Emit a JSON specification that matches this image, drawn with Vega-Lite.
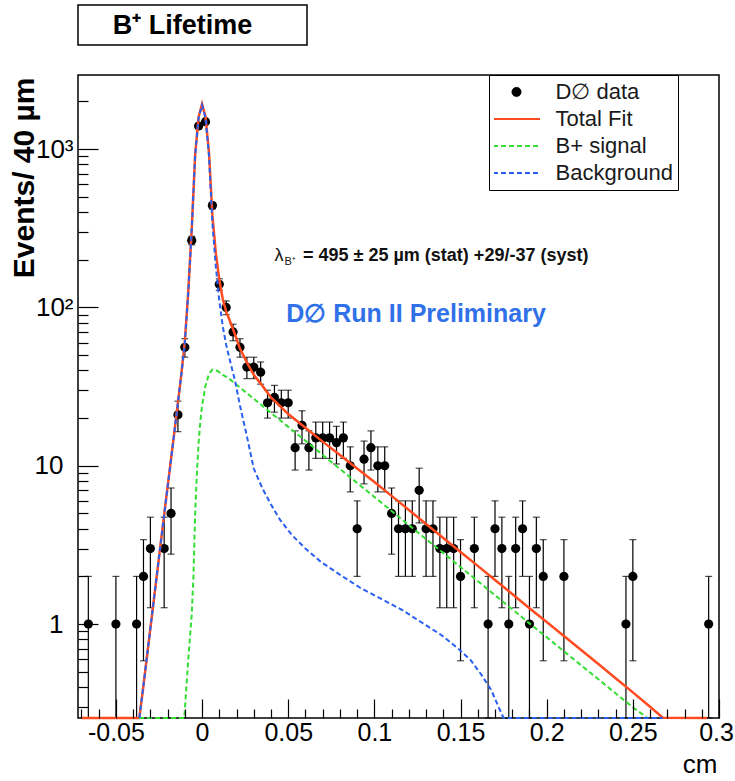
{
  "$schema": "https://vega.github.io/schema/vega-lite/v6.json",
  "autosize": {"type": "pad"},
  "padding": {"left": 8, "top": 4, "right": 0, "bottom": 0},
  "background": "white",
  "spacing": 27,
  "config": {"view": {"stroke": "black", "strokeWidth": 1.5}},
  "resolve": {"scale": {"color": "independent"}, "legend": {"color": "independent"}},
  "datasets": {
    "points": [
      {"x": -0.066, "n": 1, "lo": 0, "hi": 2, "series": "D∅ data"},
      {"x": -0.050, "n": 1, "lo": 0, "hi": 2, "series": "D∅ data"},
      {"x": -0.038, "n": 1, "lo": 0, "hi": 2, "series": "D∅ data"},
      {"x": -0.034, "n": 2, "lo": 0.586, "hi": 3.414, "series": "D∅ data"},
      {"x": -0.030, "n": 3, "lo": 1.268, "hi": 4.732, "series": "D∅ data"},
      {"x": -0.022, "n": 3, "lo": 1.268, "hi": 4.732, "series": "D∅ data"},
      {"x": -0.018, "n": 5, "lo": 2.764, "hi": 7.236, "series": "D∅ data"},
      {"x": -0.014, "n": 21, "lo": 16.417, "hi": 25.583, "series": "D∅ data"},
      {"x": -0.010, "n": 56, "lo": 48.517, "hi": 63.483, "series": "D∅ data"},
      {"x": -0.006, "n": 265, "lo": 248.721, "hi": 281.279, "series": "D∅ data"},
      {"x": -0.002, "n": 1400, "lo": 1362.583, "hi": 1437.417, "series": "D∅ data"},
      {"x": 0.002, "n": 1490, "lo": 1451.4, "hi": 1528.6, "series": "D∅ data"},
      {"x": 0.006, "n": 440, "lo": 419.024, "hi": 460.976, "series": "D∅ data"},
      {"x": 0.010, "n": 140, "lo": 128.168, "hi": 151.832, "series": "D∅ data"},
      {"x": 0.014, "n": 100, "lo": 90, "hi": 110, "series": "D∅ data"},
      {"x": 0.018, "n": 70, "lo": 61.633, "hi": 78.367, "series": "D∅ data"},
      {"x": 0.022, "n": 56, "lo": 48.517, "hi": 63.483, "series": "D∅ data"},
      {"x": 0.026, "n": 42, "lo": 35.519, "hi": 48.481, "series": "D∅ data"},
      {"x": 0.030, "n": 42, "lo": 35.519, "hi": 48.481, "series": "D∅ data"},
      {"x": 0.034, "n": 39, "lo": 32.755, "hi": 45.245, "series": "D∅ data"},
      {"x": 0.038, "n": 25, "lo": 20, "hi": 30, "series": "D∅ data"},
      {"x": 0.042, "n": 27, "lo": 21.804, "hi": 32.196, "series": "D∅ data"},
      {"x": 0.046, "n": 25, "lo": 20, "hi": 30, "series": "D∅ data"},
      {"x": 0.050, "n": 25, "lo": 20, "hi": 30, "series": "D∅ data"},
      {"x": 0.054, "n": 13, "lo": 9.394, "hi": 16.606, "series": "D∅ data"},
      {"x": 0.058, "n": 18, "lo": 13.757, "hi": 22.243, "series": "D∅ data"},
      {"x": 0.062, "n": 13, "lo": 9.394, "hi": 16.606, "series": "D∅ data"},
      {"x": 0.066, "n": 15, "lo": 11.127, "hi": 18.873, "series": "D∅ data"},
      {"x": 0.070, "n": 15, "lo": 11.127, "hi": 18.873, "series": "D∅ data"},
      {"x": 0.074, "n": 15, "lo": 11.127, "hi": 18.873, "series": "D∅ data"},
      {"x": 0.078, "n": 14, "lo": 10.258, "hi": 17.742, "series": "D∅ data"},
      {"x": 0.082, "n": 15, "lo": 11.127, "hi": 18.873, "series": "D∅ data"},
      {"x": 0.086, "n": 10, "lo": 6.838, "hi": 13.162, "series": "D∅ data"},
      {"x": 0.090, "n": 4, "lo": 2, "hi": 6, "series": "D∅ data"},
      {"x": 0.094, "n": 11, "lo": 7.683, "hi": 14.317, "series": "D∅ data"},
      {"x": 0.098, "n": 13, "lo": 9.394, "hi": 16.606, "series": "D∅ data"},
      {"x": 0.102, "n": 10, "lo": 6.838, "hi": 13.162, "series": "D∅ data"},
      {"x": 0.106, "n": 10, "lo": 6.838, "hi": 13.162, "series": "D∅ data"},
      {"x": 0.110, "n": 5, "lo": 2.764, "hi": 7.236, "series": "D∅ data"},
      {"x": 0.114, "n": 4, "lo": 2, "hi": 6, "series": "D∅ data"},
      {"x": 0.118, "n": 4, "lo": 2, "hi": 6, "series": "D∅ data"},
      {"x": 0.122, "n": 4, "lo": 2, "hi": 6, "series": "D∅ data"},
      {"x": 0.126, "n": 7, "lo": 4.354, "hi": 9.646, "series": "D∅ data"},
      {"x": 0.130, "n": 4, "lo": 2, "hi": 6, "series": "D∅ data"},
      {"x": 0.134, "n": 4, "lo": 2, "hi": 6, "series": "D∅ data"},
      {"x": 0.138, "n": 3, "lo": 1.268, "hi": 4.732, "series": "D∅ data"},
      {"x": 0.142, "n": 3, "lo": 1.268, "hi": 4.732, "series": "D∅ data"},
      {"x": 0.146, "n": 3, "lo": 1.268, "hi": 4.732, "series": "D∅ data"},
      {"x": 0.150, "n": 2, "lo": 0.586, "hi": 3.414, "series": "D∅ data"},
      {"x": 0.158, "n": 3, "lo": 1.268, "hi": 4.732, "series": "D∅ data"},
      {"x": 0.166, "n": 1, "lo": 0, "hi": 2, "series": "D∅ data"},
      {"x": 0.170, "n": 4, "lo": 2, "hi": 6, "series": "D∅ data"},
      {"x": 0.174, "n": 3, "lo": 1.268, "hi": 4.732, "series": "D∅ data"},
      {"x": 0.178, "n": 1, "lo": 0, "hi": 2, "series": "D∅ data"},
      {"x": 0.182, "n": 3, "lo": 1.268, "hi": 4.732, "series": "D∅ data"},
      {"x": 0.186, "n": 4, "lo": 2, "hi": 6, "series": "D∅ data"},
      {"x": 0.190, "n": 1, "lo": 0, "hi": 2, "series": "D∅ data"},
      {"x": 0.194, "n": 3, "lo": 1.268, "hi": 4.732, "series": "D∅ data"},
      {"x": 0.198, "n": 2, "lo": 0.586, "hi": 3.414, "series": "D∅ data"},
      {"x": 0.210, "n": 2, "lo": 0.586, "hi": 3.414, "series": "D∅ data"},
      {"x": 0.246, "n": 1, "lo": 0, "hi": 2, "series": "D∅ data"},
      {"x": 0.250, "n": 2, "lo": 0.586, "hi": 3.414, "series": "D∅ data"},
      {"x": 0.294, "n": 1, "lo": 0, "hi": 2, "series": "D∅ data"}
    ],
    "fit": [
      {"x": -0.070, "y": 0.25}, {"x": -0.0364, "y": 0.254}, {"x": -0.034, "y": 0.41}, {"x": -0.030, "y": 0.94},
      {"x": -0.026, "y": 2.14}, {"x": -0.022, "y": 4.9}, {"x": -0.018, "y": 11}, {"x": -0.014, "y": 25},
      {"x": -0.012, "y": 38}, {"x": -0.010, "y": 61}, {"x": -0.008, "y": 126}, {"x": -0.006, "y": 312},
      {"x": -0.004, "y": 925}, {"x": -0.002, "y": 1595}, {"x": 0, "y": 1925}, {"x": 0.002, "y": 1600},
      {"x": 0.004, "y": 958}, {"x": 0.006, "y": 380}, {"x": 0.008, "y": 220}, {"x": 0.010, "y": 150},
      {"x": 0.012, "y": 113}, {"x": 0.014, "y": 94}, {"x": 0.016, "y": 83}, {"x": 0.019, "y": 68},
      {"x": 0.022, "y": 55}, {"x": 0.026, "y": 45}, {"x": 0.030, "y": 37.5}, {"x": 0.035, "y": 32},
      {"x": 0.040, "y": 27}, {"x": 0.045, "y": 24}, {"x": 0.050, "y": 21.2}, {"x": 0.060, "y": 17.4},
      {"x": 0.070, "y": 14.2}, {"x": 0.080, "y": 11.7}, {"x": 0.090, "y": 9.6}, {"x": 0.100, "y": 7.9},
      {"x": 0.110, "y": 6.45}, {"x": 0.120, "y": 5.26}, {"x": 0.130, "y": 4.29}, {"x": 0.140, "y": 3.5},
      {"x": 0.150, "y": 2.85}, {"x": 0.160, "y": 2.33}, {"x": 0.170, "y": 1.9}, {"x": 0.180, "y": 1.55},
      {"x": 0.190, "y": 1.26}, {"x": 0.200, "y": 1.03}, {"x": 0.210, "y": 0.84}, {"x": 0.220, "y": 0.685},
      {"x": 0.230, "y": 0.56}, {"x": 0.240, "y": 0.455}, {"x": 0.250, "y": 0.37}, {"x": 0.260, "y": 0.3},
      {"x": 0.2674, "y": 0.256}, {"x": 0.293, "y": 0.25}
    ],
    "signal": [
      {"x": -0.0366, "y": 0.25}, {"x": -0.0103, "y": 0.254}, {"x": -0.008, "y": 0.6}, {"x": -0.006, "y": 1.15},
      {"x": -0.005, "y": 2.0}, {"x": -0.004, "y": 5}, {"x": -0.003, "y": 9}, {"x": -0.002, "y": 14},
      {"x": -0.001, "y": 19}, {"x": 0, "y": 24}, {"x": 0.002, "y": 32}, {"x": 0.004, "y": 38},
      {"x": 0.006, "y": 40.5}, {"x": 0.008, "y": 40.3}, {"x": 0.010, "y": 39}, {"x": 0.012, "y": 37.5},
      {"x": 0.015, "y": 36}, {"x": 0.020, "y": 32.5}, {"x": 0.030, "y": 26.5}, {"x": 0.040, "y": 21.6},
      {"x": 0.050, "y": 17.6}, {"x": 0.060, "y": 14.4}, {"x": 0.070, "y": 11.7}, {"x": 0.080, "y": 9.55},
      {"x": 0.090, "y": 7.79}, {"x": 0.100, "y": 6.35}, {"x": 0.110, "y": 5.18}, {"x": 0.120, "y": 4.22},
      {"x": 0.130, "y": 3.44}, {"x": 0.140, "y": 2.81}, {"x": 0.150, "y": 2.29}, {"x": 0.160, "y": 1.87},
      {"x": 0.170, "y": 1.52}, {"x": 0.180, "y": 1.24}, {"x": 0.190, "y": 1.01}, {"x": 0.200, "y": 0.826},
      {"x": 0.210, "y": 0.673}, {"x": 0.220, "y": 0.549}, {"x": 0.230, "y": 0.448}, {"x": 0.240, "y": 0.365},
      {"x": 0.250, "y": 0.298}, {"x": 0.2585, "y": 0.254}
    ],
    "background": [
      {"x": -0.0364, "y": 0.254}, {"x": -0.034, "y": 0.41}, {"x": -0.030, "y": 0.94}, {"x": -0.026, "y": 2.14},
      {"x": -0.022, "y": 4.9}, {"x": -0.018, "y": 11}, {"x": -0.014, "y": 25}, {"x": -0.012, "y": 38},
      {"x": -0.010, "y": 60}, {"x": -0.008, "y": 125}, {"x": -0.006, "y": 310}, {"x": -0.004, "y": 920},
      {"x": -0.002, "y": 1580}, {"x": 0, "y": 1900}, {"x": 0.002, "y": 1570}, {"x": 0.004, "y": 920},
      {"x": 0.006, "y": 340}, {"x": 0.008, "y": 180}, {"x": 0.010, "y": 110}, {"x": 0.012, "y": 76},
      {"x": 0.014, "y": 58}, {"x": 0.016, "y": 47}, {"x": 0.019, "y": 35}, {"x": 0.022, "y": 24},
      {"x": 0.026, "y": 15.4}, {"x": 0.030, "y": 9.6}, {"x": 0.035, "y": 7.2}, {"x": 0.040, "y": 5.7},
      {"x": 0.045, "y": 4.6}, {"x": 0.052, "y": 3.66}, {"x": 0.060, "y": 3.0}, {"x": 0.069, "y": 2.47},
      {"x": 0.080, "y": 2.05}, {"x": 0.092, "y": 1.69}, {"x": 0.104, "y": 1.44}, {"x": 0.116, "y": 1.23},
      {"x": 0.127, "y": 1.03}, {"x": 0.139, "y": 0.85}, {"x": 0.148, "y": 0.71}, {"x": 0.156, "y": 0.59},
      {"x": 0.162, "y": 0.48}, {"x": 0.168, "y": 0.38}, {"x": 0.172, "y": 0.30}, {"x": 0.175, "y": 0.254},
      {"x": 0.2674, "y": 0.25}
    ]
  },
  "vconcat": [
    {
      "width": 229,
      "height": 40,
      "view": {"stroke": "black", "strokeWidth": 1.5, "fill": "white"},
      "data": {"values": [{"t": "B⁺ Lifetime"}]},
      "mark": {"type": "text", "font": "Liberation Sans", "fontSize": 27, "fontWeight": "bold", "color": "black", "align": "center", "baseline": "middle", "dx": -10, "dy": 1},
      "encoding": {"text": {"field": "t"}}
    },
    {
      "resolve": {"scale": {"color": "independent"}, "legend": {"color": "independent"}},
      "hconcat": [
        {
          "width": 641,
          "height": 643,
          "resolve": {"axis": {"x": "independent", "y": "independent"}},
          "layer": [
            {
              "data": {"name": "points"},
              "mark": {"type": "rule", "color": "black", "strokeWidth": 1.2},
              "encoding": {
                "x": {"field": "x", "type": "quantitative", "scale": {"domain": [-0.072, 0.3], "nice": false, "zero": false},
                  "axis": {
                    "orient": "bottom", "offset": -19, "zindex": 1,
                    "values": [-0.05, 0, 0.05, 0.1, 0.15, 0.2, 0.25, 0.3],
                    "labelExpr": "datum.value < -0.01 ? '-0.05' : (abs(datum.value) < 0.001 ? '0' : format(datum.value, '.2~f'))",
                    "labelFont": "Liberation Sans", "labelFontSize": 25, "labelColor": "black",
                    "labelPadding": 2, "labelOverlap": false, "labelFlush": false,
                    "labelOffset": {"condition": {"test": "datum.value > 0.28", "value": -3}, "value": 0},
                    "ticks": true, "tickSize": 19, "tickColor": "black", "tickWidth": 1.2, "tickOpacity": 1,
                    "domain": false, "grid": false,
                    "title": "cm", "titleFont": "Liberation Sans", "titleFontSize": 26, "titleFontWeight": "normal", "titleColor": "black",
                    "titleAnchor": "end", "titleAlign": "right", "titleBaseline": "alphabetic", "titleX": 639, "titleY": 73
                  }
                },
                "y": {"field": "lo", "type": "quantitative", "scale": {"type": "log", "domain": [0.255, 2940], "clamp": true, "nice": false},
                  "axis": {
                    "orient": "left", "offset": -20, "zindex": 1,
                    "values": [1, 10, 100, 1000],
                    "labelExpr": "datum.value == 1 ? '1' : datum.value == 10 ? '10' : datum.value == 100 ? '10²' : '10³'",
                    "labelFont": "Liberation Sans", "labelFontSize": 26, "labelColor": "black", "labelOverlap": false, "labelFlush": false,
                    "labelPadding": {"condition": {"test": "datum.value >= 100", "value": 5}, "value": 15},
                    "ticks": true, "tickSize": 20, "tickColor": "black", "tickWidth": 1.2, "tickOpacity": 1,
                    "domain": false, "grid": false,
                    "title": "Events/ 40  µm", "titleFont": "Liberation Sans", "titleFontSize": 30, "titleFontWeight": "bold", "titleColor": "black",
                    "titleAnchor": "end", "titleAlign": "right", "titleBaseline": "middle", "titleAngle": 270, "titleX": -74, "titleY": 2
                  }
                },
                "y2": {"field": "hi"}
              }
            },
            {
              "data": {"name": "points"},
              "mark": {"type": "tick", "orient": "horizontal", "size": 7, "thickness": 1.2, "color": "black"},
              "encoding": {
                "x": {"field": "x", "type": "quantitative",
                  "axis": {"orient": "bottom", "offset": -9, "zindex": 1, "values": [-0.07,-0.06,-0.04,-0.03,-0.02,-0.01,0.01,0.02,0.03,0.04,0.06,0.07,0.08,0.09,0.11,0.12,0.13,0.14,0.16,0.17,0.18,0.19,0.21,0.22,0.23,0.24,0.26,0.27,0.28,0.29],
                    "labels": false, "domain": false, "grid": false, "title": null, "ticks": true, "tickSize": 9, "tickColor": "black", "tickWidth": 1.2, "tickOpacity": 1}
                },
                "y": {"field": "lo", "type": "quantitative",
                  "axis": {"orient": "left", "offset": -10, "zindex": 1, "values": [0.3,0.4,0.5,0.6,0.7,0.8,0.9,2,3,4,5,6,7,8,9,20,30,40,50,60,70,80,90,200,300,400,500,600,700,800,900,2000],
                    "labels": false, "domain": false, "grid": false, "title": null, "ticks": true, "tickSize": 10, "tickColor": "black", "tickWidth": 1.2, "tickOpacity": 1}
                }
              }
            },
            {
              "data": {"name": "points"},
              "mark": {"type": "tick", "orient": "horizontal", "size": 7, "thickness": 1.2, "color": "black"},
              "encoding": {"x": {"field": "x", "type": "quantitative", "axis": null}, "y": {"field": "hi", "type": "quantitative", "axis": null}}
            },
            {
              "data": {"name": "points"},
              "mark": {"type": "point", "filled": true, "size": 85, "opacity": 1},
              "encoding": {
                "x": {"field": "x", "type": "quantitative", "axis": null},
                "y": {"field": "n", "type": "quantitative", "axis": null},
                "color": {"field": "series", "type": "nominal",
                  "scale": {"domain": ["D∅ data", "Total Fit", "B+ signal", "Background"], "range": ["black", "#ff4b1f", "#33dd33", "#2a5ff0"]},
                  "legend": {
                    "orient": "none", "legendX": 411, "legendY": 0, "title": null,
                    "strokeColor": "black", "fillColor": "white", "padding": 5,
                    "labelFont": "Liberation Sans", "labelFontSize": 22, "labelColor": "#1a1a1a",
                    "symbolSize": 576, "clipHeight": 24, "rowPadding": 3, "symbolOpacity": 1,
                    "symbolOffset": 11.5, "labelOffset": 28,
                    "symbolType": {"expr": "datum.value == 'D∅ data' ? 'M-0.39,0A0.39,0.39,0,1,0,0.39,0A0.39,0.39,0,1,0,-0.39,0Z' : 'M-1.96,0H1.96'"},
                    "symbolStrokeColor": {"expr": "datum.value == 'D∅ data' ? 'black' : datum.value == 'Total Fit' ? '#ff4b1f' : datum.value == 'B+ signal' ? '#33dd33' : '#2a5ff0'"},
                    "symbolFillColor": {"expr": "datum.value == 'D∅ data' ? 'black' : 'transparent'"},
                    "symbolDash": {"expr": "datum.value == 'B+ signal' || datum.value == 'Background' ? [5,3] : [1,0]"},
                    "symbolStrokeWidth": {"expr": "datum.value == 'D∅ data' ? 0.5 : 2"}
                  }
                }
              }
            },
            {
              "data": {"name": "fit"},
              "mark": {"type": "line", "strokeWidth": 2.5},
              "encoding": {"x": {"field": "x", "type": "quantitative", "axis": null}, "y": {"field": "y", "type": "quantitative", "axis": null}, "color": {"datum": "Total Fit"}}
            },
            {
              "data": {"name": "signal"},
              "mark": {"type": "line", "strokeWidth": 2, "strokeDash": [5, 3]},
              "encoding": {"x": {"field": "x", "type": "quantitative", "axis": null}, "y": {"field": "y", "type": "quantitative", "axis": null}, "color": {"datum": "B+ signal"}}
            },
            {
              "data": {"name": "background"},
              "mark": {"type": "line", "strokeWidth": 2, "strokeDash": [5, 3]},
              "encoding": {"x": {"field": "x", "type": "quantitative", "axis": null}, "y": {"field": "y", "type": "quantitative", "axis": null}, "color": {"datum": "Background"}}
            },
            {
              "data": {"values": [{"t": "λ"}]},
              "mark": {"type": "text", "font": "Liberation Sans", "fontSize": 18, "align": "left", "baseline": "middle", "color": "#111"},
              "encoding": {"x": {"datum": 0.042, "axis": null}, "y": {"datum": 211, "axis": null}, "text": {"field": "t"}}
            },
            {
              "data": {"values": [{"t": "B⁺"}]},
              "mark": {"type": "text", "font": "Liberation Sans", "fontSize": 11, "align": "left", "baseline": "middle", "color": "#111"},
              "encoding": {"x": {"datum": 0.0478, "axis": null}, "y": {"datum": 193, "axis": null}, "text": {"field": "t"}}
            },
            {
              "data": {"values": [{"t": "= 495 ± 25 µm (stat) +29/-37 (syst)"}]},
              "mark": {"type": "text", "font": "Liberation Sans", "fontSize": 18, "fontWeight": "bold", "align": "left", "baseline": "middle", "color": "#111"},
              "encoding": {"x": {"datum": 0.0586, "axis": null}, "y": {"datum": 211, "axis": null}, "text": {"field": "t"}}
            },
            {
              "data": {"values": [{"t": "D∅ Run II Preliminary"}]},
              "mark": {"type": "text", "font": "Liberation Sans", "fontSize": 25, "fontWeight": "bold", "align": "center", "baseline": "middle", "color": "#3070e8"},
              "encoding": {"x": {"datum": 0.1242, "axis": null}, "y": {"datum": 91, "axis": null}, "text": {"field": "t"}}
            }
          ]
        }
      ]
    }
  ]
}
